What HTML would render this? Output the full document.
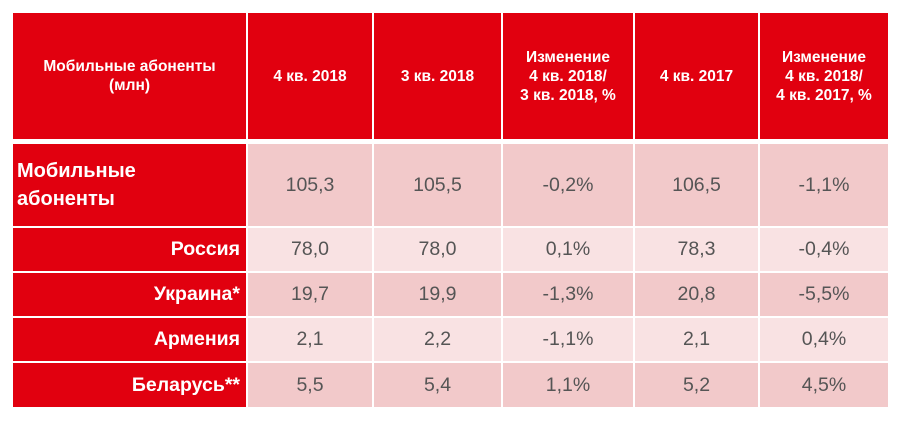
<!DOCTYPE html>
<html><head><meta charset="utf-8"><style>
body{margin:0;width:899px;height:425px;background:#fff;position:relative;overflow:hidden;font-family:"Liberation Sans",sans-serif}
.c{position:absolute;display:flex;align-items:center;justify-content:center;text-align:center;box-sizing:border-box}
.h{background:#e1000f;color:#fff;font-weight:bold;font-size:15.5px;line-height:19px}
.l{background:#e1000f;color:#fff;font-weight:bold;font-size:19.5px;justify-content:flex-end;padding-right:6px}
.v{color:#555;font-size:19.5px}
.d{background:#f2c9ca}.e{background:#f9e2e3}
</style></head><body>
<div id="t"></div>
<script>
const cols=[[13,246],[248,372],[374,501],[503,633],[635,758],[760,888]];
const headers=["Мобильные абоненты<br>(млн)","4 кв. 2018","3 кв. 2018","Изменение<br>4 кв. 2018/<br>3 кв. 2018, %","4 кв. 2017","Изменение<br>4 кв. 2018/<br>4 кв. 2017, %"];
const labels=["Мобильные<br>абоненты","Россия","Украина*","Армения","Беларусь**"];
const values=[["105,3","105,5","-0,2%","106,5","-1,1%"],["78,0","78,0","0,1%","78,3","-0,4%"],["19,7","19,9","-1,3%","20,8","-5,5%"],["2,1","2,2","-1,1%","2,1","0,4%"],["5,5","5,4","1,1%","5,2","4,5%"]];
const rows=[[144,226],[228,271],[273,316],[318,361],[363,407]];
const t=document.getElementById('t');
function cell(cls,x0,x1,y0,y1,html){const d=document.createElement('div');d.className='c '+cls;d.style.left=x0+'px';d.style.width=(x1-x0)+'px';d.style.top=y0+'px';d.style.height=(y1-y0)+'px';d.innerHTML=html;t.appendChild(d);return d;}
headers.forEach((h,i)=>{const d=cell('h',cols[i][0],cols[i][1],13,139,h);

});
labels.forEach((lb,r)=>{const [y0,y1]=rows[r];
const d=cell('l',cols[0][0],cols[0][1],y0,y1,lb);
if(r===0){d.style.justifyContent='flex-start';d.style.textAlign='left';d.style.paddingLeft='4px';d.style.lineHeight='28px';d.style.fontSize='20px';}


values[r].forEach((v,i)=>{const c=cell('v '+(r%2===0?'d':'e'),cols[i+1][0],cols[i+1][1],y0,y1,v);

});});
</script>
</body></html>
